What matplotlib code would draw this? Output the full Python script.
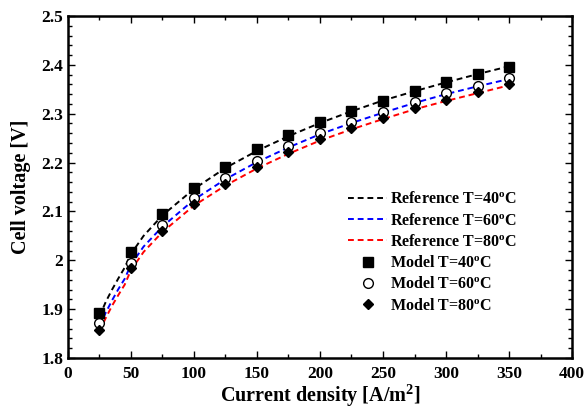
import numpy as np
import matplotlib
matplotlib.use("Agg")
import matplotlib.pyplot as plt
from matplotlib.ticker import MultipleLocator

plt.rcParams['font.family'] = ['Liberation Serif', 'DejaVu Serif']
plt.rcParams['font.weight'] = 'bold'
plt.rcParams['mathtext.fontset'] = 'custom'
plt.rcParams['mathtext.rm'] = 'Liberation Serif:bold'
plt.rcParams['mathtext.it'] = 'Liberation Serif:bold:italic'
plt.rcParams['mathtext.bf'] = 'Liberation Serif:bold'

# Reference curves
ref_x = [25, 30, 35, 40, 45, 50, 60, 75, 100, 125, 150, 175, 200, 225, 250, 275, 300, 325, 350]
ref_40 = [1.885, 1.915, 1.940, 1.963, 1.985, 2.013, 2.050, 2.092, 2.146, 2.189, 2.224,
          2.254, 2.281, 2.305, 2.327, 2.346, 2.364, 2.381, 2.397]
ref_60 = [1.865, 1.893, 1.918, 1.941, 1.962, 1.991, 2.028, 2.069, 2.124, 2.166, 2.201,
          2.231, 2.258, 2.281, 2.302, 2.322, 2.340, 2.356, 2.371]
ref_80 = [1.855, 1.882, 1.907, 1.929, 1.950, 1.980, 2.017, 2.058, 2.112, 2.153, 2.188,
          2.218, 2.245, 2.268, 2.289, 2.309, 2.326, 2.342, 2.358]

# Model points
model_x = [25, 50, 75, 100, 125, 150, 175, 200, 225, 250, 275, 300, 325, 350]
model_40 = [1.892, 2.017, 2.094, 2.148, 2.191, 2.227, 2.256, 2.283, 2.305, 2.326, 2.346, 2.364, 2.381, 2.395]
model_60 = [1.872, 1.994, 2.072, 2.127, 2.168, 2.203, 2.234, 2.260, 2.283, 2.303, 2.324, 2.342, 2.356, 2.373]
model_80 = [1.857, 1.984, 2.060, 2.115, 2.156, 2.191, 2.221, 2.248, 2.270, 2.291, 2.311, 2.328, 2.344, 2.360]

fig = plt.figure(figsize=(5.85, 4.12), dpi=100)
ax = fig.add_axes([0.1162, 0.1311, 0.8616, 0.8301])

dash = (3, 2)
ax.plot(ref_x, ref_40, color='black', lw=1.4, dashes=dash, label='Reference T=40$^\\mathrm{o}$C')
ax.plot(ref_x, ref_60, color='#0000ff', lw=1.4, dashes=dash, label='Reference T=60$^\\mathrm{o}$C')
ax.plot(ref_x, ref_80, color='#ff0000', lw=1.4, dashes=dash, label='Reference T=80$^\\mathrm{o}$C')

ax.plot(model_x, model_40, 's', color='black', ms=7, label='Model T=40$^\\mathrm{o}$C')
ax.plot(model_x, model_60, 'o', mfc='white', mec='black', mew=1.0, ms=7, label='Model T=60$^\\mathrm{o}$C')
ax.plot(model_x, model_80, 'D', color='black', ms=5.5, label='Model T=80$^\\mathrm{o}$C')

ax.set_xlim(0, 400)
ax.set_ylim(1.8, 2.5)
ax.xaxis.set_major_locator(MultipleLocator(50))
ax.xaxis.set_minor_locator(MultipleLocator(25))
ax.yaxis.set_major_locator(MultipleLocator(0.1))
ax.yaxis.set_minor_locator(MultipleLocator(0.02))
ax.set_yticks([1.8, 1.9, 2.0, 2.1, 2.2, 2.3, 2.4, 2.5])
ax.set_yticklabels(['1.8', '1.9', '2', '2.1', '2.2', '2.3', '2.4', '2.5'])

ax.tick_params(which='both', direction='in', top=True, right=True, labelsize=12.5, width=1.0)
ax.tick_params(which='major', length=5)
ax.tick_params(axis='x', which='major', pad=6)
ax.tick_params(which='minor', length=3)
for s in ax.spines.values():
    s.set_linewidth(1.8)

ax.set_xlabel('Current density [A/m$^2$]', fontsize=14.5, fontweight='bold', labelpad=0)
ax.set_ylabel('Cell voltage [V]', fontsize=14.5, fontweight='bold', labelpad=7)

ax.legend(loc='upper left', bbox_to_anchor=(0.542, 0.506), frameon=False, fontsize=11.5,
          handlelength=2.5, handletextpad=0.15, labelspacing=0.33, borderaxespad=0)

fig.savefig('out.png', dpi=100)
